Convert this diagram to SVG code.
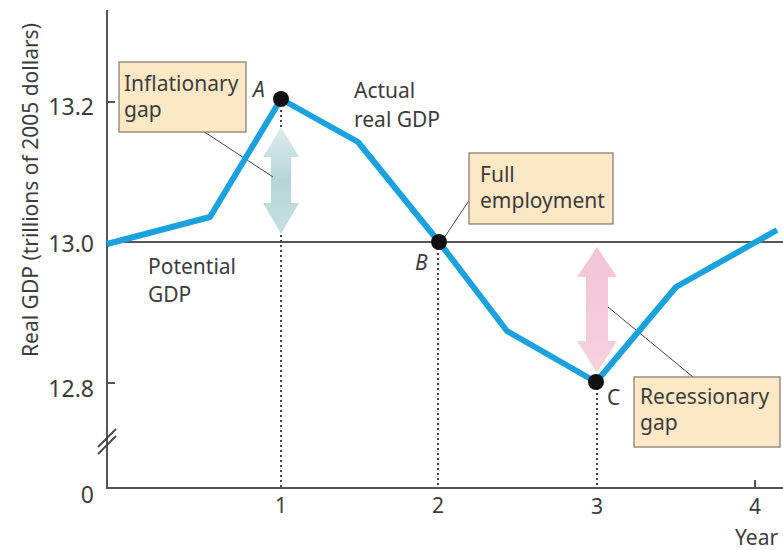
<svg xmlns="http://www.w3.org/2000/svg" width="783" height="550" viewBox="0 0 783 550">
<style>
text{font-family:"Noto Sans","Liberation Sans",sans-serif;fill:#3c3c3c;font-size:21px}
.ax{stroke:#555;stroke-width:2;fill:none}
.dot{stroke:#444;stroke-width:2;stroke-dasharray:2 3;fill:none}
.box{fill:#fde8c6;stroke:#8a8070;stroke-width:1.3}
.lead{stroke:#444;stroke-width:1;fill:none}
.pt{fill:#111}
.tl{text-anchor:end;font-size:23px}
.xl{text-anchor:middle}
</style>
<defs>
<linearGradient id="tg" x1="0" y1="0" x2="0" y2="1">
<stop offset="0" stop-color="#dcecee"/><stop offset="0.5" stop-color="#b6d6d6"/><stop offset="1" stop-color="#c6e0e0"/>
</linearGradient>
<linearGradient id="pg" x1="0" y1="0" x2="0" y2="1">
<stop offset="0" stop-color="#f2c4d6"/><stop offset="1" stop-color="#f6d2e0"/>
</linearGradient>
</defs>
<rect width="783" height="550" fill="#fff"/>
<g id="axes">
<line class="ax" x1="107" y1="10" x2="107" y2="489"/>
<line class="ax" x1="106" y1="488" x2="783" y2="488"/>
<line class="ax" x1="107" y1="102" x2="115" y2="102"/>
<line class="ax" x1="107" y1="383" x2="115" y2="383"/>
<line class="ax" x1="755" y1="488" x2="755" y2="480"/>
<g stroke="#444" stroke-width="1.8">
<line x1="98" y1="447" x2="116" y2="429"/>
<line x1="98" y1="454" x2="116" y2="436"/>
</g>
<text class="tl" x="94" y="115">13.2</text>
<text class="tl" x="94" y="252">13.0</text>
<text class="tl" x="94" y="397">12.8</text>
<text class="tl" x="94" y="503">0</text>
<text class="xl" x="281" y="513">1</text>
<text class="xl" x="438" y="513">2</text>
<text class="xl" x="597" y="514">3</text>
<text class="xl" x="755" y="514">4</text>
<text x="735" y="545">Year</text>
<text transform="translate(38 190) rotate(-90)" text-anchor="middle" font-size="22">Real GDP (trillions of 2005 dollars)</text>
</g>
<g id="potential-gdp">
<line x1="107" y1="242" x2="783" y2="242" stroke="#555" stroke-width="2.2"/>
<text x="148" y="274">Potential<tspan x="148" dy="28">GDP</tspan></text>
</g>
<g id="connectors">
<line class="dot" x1="281" y1="105" x2="281" y2="487"/>
<line class="dot" x1="438" y1="248" x2="438" y2="487"/>
<line class="dot" x1="597" y1="388" x2="597" y2="487"/>
<path d="M281 127 L299 157 L291 157 L291 203 L299 203 L281 234 L263 203 L271 203 L271 157 L263 157 Z" fill="url(#tg)"/>
<path d="M597 247 L617 277 L608 277 L608 341 L617 341 L597 373 L577 341 L586 341 L586 277 L577 277 Z" fill="url(#pg)"/>
<line class="lead" x1="203" y1="131" x2="273" y2="177"/>
<line class="lead" x1="442" y1="241" x2="470" y2="199"/>
<line class="lead" x1="608" y1="307" x2="693" y2="377"/>
</g>
<g id="actual-gdp">
<polyline points="107,244 210,217 281,99 358,142 439,242 507,331 596,382 676,287 777,230" fill="none" stroke="#1ba2dc" stroke-width="6" stroke-linejoin="round"/>
<text x="354" y="98">Actual<tspan x="354" dy="29">real GDP</tspan></text>
</g>
<g id="point-a">
<circle class="pt" cx="281" cy="99" r="8"/>
<text x="253" y="97" font-style="italic">A</text>
</g>
<g id="point-b">
<circle class="pt" cx="439" cy="242" r="8"/>
<text x="415" y="270" font-style="italic">B</text>
</g>
<g id="point-c">
<circle class="pt" cx="596" cy="382" r="8"/>
<text x="607" y="405">C</text>
</g>
<g id="inflationary-gap">
<rect class="box" x="119" y="62" width="127" height="70"/>
<text x="124" y="91">Inflationary<tspan x="124" dy="26">gap</tspan></text>
</g>
<g id="full-employment">
<rect class="box" x="469" y="153" width="144" height="71"/>
<text x="480" y="182">Full<tspan x="480" dy="26">employment</tspan></text>
</g>
<g id="recessionary-gap">
<rect class="box" x="634" y="377" width="146" height="70"/>
<text x="640" y="404">Recessionary<tspan x="640" dy="26">gap</tspan></text>
</g>
</svg>
